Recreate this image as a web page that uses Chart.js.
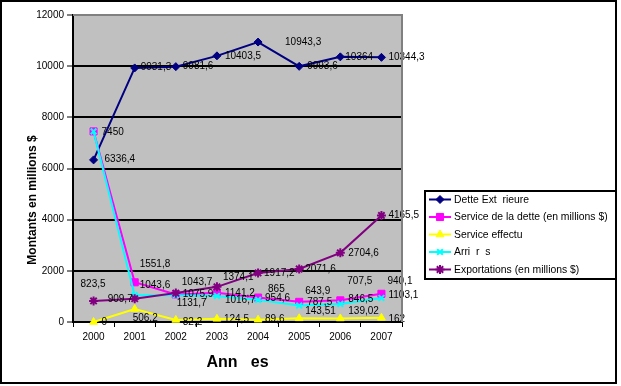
<!DOCTYPE html>
<html><head><meta charset="utf-8">
<script src="https://cdn.jsdelivr.net/npm/chart.js@4.4.0/dist/chart.umd.min.js"></script>
<style>html,body{margin:0;padding:0;background:#fff;overflow:hidden;}canvas{display:block;}</style>
</head><body>
<canvas id="c" width="621" height="386"></canvas>
<script>
const categories = ['2000','2001','2002','2003','2004','2005','2006','2007'];
const detteExterieure = [6336.4, 9931.3, 9981.6, 10403.5, 10943.3, 9993.6, 10364, 10344.3];
const serviceDette    = [7450, 1551.8, 1075.9, 1141.2, 954.6, 787.5, 846.5, 1103.1];
const serviceEffectue = [0, 506.2, 82.2, 124.5, 89.6, 143.51, 139.02, 162];
const arrieres        = [7450, 1043.6, 1043.7, 1016.7, 865, 643.9, 707.5, 940.1];
const exportations    = [823.5, 909.7, 1131.7, 1374.1, 1917.2, 2071.6, 2704.6, 4165.5];
const yTicks = [0, 2000, 4000, 6000, 8000, 10000, 12000];
const seriesNames = ['Dette Ext  rieure', 'Service de la dette (en millions $)', 'Service effectu', 'Arri  r  s', 'Exportations (en millions $)'];
const xTitle = 'Ann   es';
const yTitle = 'Montants en millions $';

// label placement (pixel nudges relative to each point; layout only)
const labelNudges = [
  [[11,-1],[6,-1],[7,0],[8,0],[27,0],[8,0],[5,0],[7,0]],
  [[8,1],[5,-18],[7,0],[8,0],[7,1],[8,0],[8,-1],[7,1]],
  [[8,0],[-2,9],[7,2],[7,0],[7,0],[6,-7],[8,-7],[7,1]],
  [null,[5,-10],[6,-13],[8,4],[10,-11],[6,-14],[7,-23],[6,-17]],
  [[-13,-17],[-27,1],[1,10],[6,-10],[6,0],[6,0],[8,0],[7,0]]
];

const FONT = '"Liberation Sans", Arial, sans-serif';
const styles = [
  {color:'#000080', pointStyle:'rectRot', radius:4, pbw:1},
  {color:'#FF00FF', pointStyle:'rect', radius:5, pbw:1},
  {color:'#FFFF00', pointStyle:'triangle', radius:4.5, pbw:1},
  {color:'#00FFFF', pointStyle:'crossRot', radius:4, pbw:2},
  {color:'#800080', pointStyle:'star', radius:4.5, pbw:2}
];
const seriesData = [detteExterieure, serviceDette, serviceEffectue, arrieres, exportations];

const datasets = seriesData.map((d, i) => ({
  label: seriesNames[i],
  data: d,
  borderColor: styles[i].color,
  backgroundColor: styles[i].color,
  pointBackgroundColor: styles[i].color,
  pointBorderColor: styles[i].color,
  pointStyle: styles[i].pointStyle,
  pointRadius: styles[i].radius,
  pointBorderWidth: styles[i].pbw,
  borderWidth: 2,
  tension: 0,
  fill: false,
  clip: false,
  order: 5 - i
}));

const decor = {
  id: 'decor',
  beforeDraw(chart) {
    const {ctx, chartArea: a} = chart;
    ctx.save();
    ctx.fillStyle = '#fff';
    ctx.fillRect(0, 0, chart.width, chart.height);
    ctx.fillStyle = '#C0C0C0';
    ctx.fillRect(a.left, a.top, a.right - a.left, a.bottom - a.top);
    ctx.restore();
  },
  afterDatasetsDraw(chart) {
    const ctx = chart.ctx;
    ctx.save();
    ctx.font = '10px ' + FONT;
    ctx.fillStyle = '#000';
    ctx.textAlign = 'left';
    ctx.textBaseline = 'middle';
    chart.data.datasets.forEach((ds, si) => {
      const meta = chart.getDatasetMeta(si);
      meta.data.forEach((pt, i) => {
        const n = labelNudges[si][i];
        if (!n) return;
        const txt = String(ds.data[i]).replace('.', ',');
        ctx.fillText(txt, pt.x + n[0], pt.y + n[1]);
      });
    });
    ctx.restore();
  },
  afterDraw(chart) {
    const {ctx, chartArea: a} = chart;
    ctx.save();
    ctx.strokeStyle = '#808080';
    ctx.lineWidth = 2;
    ctx.beginPath();
    ctx.moveTo(a.left, a.top);
    ctx.lineTo(a.right, a.top);
    ctx.lineTo(a.right, a.bottom);
    ctx.stroke();
    ctx.fillStyle = '#000';
    ctx.font = 'bold 12px ' + FONT;
    ctx.textAlign = 'center';
    ctx.textBaseline = 'middle';
    ctx.translate(33, 200);
    ctx.rotate(-Math.PI / 2);
    ctx.fillText(yTitle, 0, 0);
    ctx.restore();

    ctx.save();
    const lx = 425, ly = 191, lw = 191, lh = 88;
    ctx.fillStyle = '#fff';
    ctx.fillRect(lx, ly, lw, lh);
    ctx.strokeStyle = '#000';
    ctx.lineWidth = 2;
    ctx.strokeRect(lx, ly, lw, lh);
    ctx.font = '10.4px ' + FONT;
    ctx.textAlign = 'left';
    ctx.textBaseline = 'middle';
    seriesNames.forEach((name, i) => {
      const y = 199.5 + 17.5 * i;
      const st = styles[i];
      ctx.strokeStyle = st.color;
      ctx.lineWidth = 2;
      ctx.beginPath();
      ctx.moveTo(429, y);
      ctx.lineTo(451, y);
      ctx.stroke();
      ctx.fillStyle = st.color;
      ctx.lineWidth = st.pbw;
      Chart.helpers.drawPoint(ctx, {pointStyle: st.pointStyle, rotation: 0, radius: st.radius, borderWidth: st.pbw}, 440, y);
      ctx.fillStyle = '#000';
      ctx.fillText(name, 454, y + 0.5);
    });
    ctx.restore();

    ctx.save();
    ctx.strokeStyle = '#000';
    ctx.lineWidth = 2;
    ctx.strokeRect(1, 1, 615, 382);
    ctx.restore();
  }
};

new Chart(document.getElementById('c'), {
  type: 'line',
  data: { labels: categories, datasets },
  options: {
    responsive: false,
    animation: false,
    devicePixelRatio: 1,
    layout: { padding: { left: 0, top: 15, right: 219, bottom: 0 } },
    plugins: { legend: { display: false }, tooltip: { enabled: false } },
    scales: {
      x: {
        offset: true,
        grid: { offset: true, drawOnChartArea: false, drawTicks: true, tickLength: 5, color: '#000', lineWidth: 1 },
        border: { color: '#000', width: 2 },
        ticks: { color: '#000', font: { size: 10, family: FONT }, padding: 4, maxRotation: 0, autoSkip: false },
        title: { display: true, text: xTitle, color: '#000', font: { size: 16, weight: 'bold', family: FONT }, padding: { top: 0, bottom: 14 } },
        afterFit(s) { s.height = 64; }
      },
      y: {
        min: 0, max: 12000,
        afterBuildTicks(s) { s.ticks = yTicks.map(v => ({ value: v })); },
        grid: {
          color: c => (c.tick && c.tick.value === 12000) ? '#808080' : '#000',
          lineWidth: 2, tickColor: '#000', tickWidth: 1, tickLength: 6
        },
        border: { color: '#000', width: 2 },
        ticks: { color: '#000', font: { size: 10, family: FONT }, padding: 3, callback: v => String(v) },
        afterFit(s) { s.width = 73; }
      }
    }
  },
  plugins: [decor]
});
</script>
</body></html>
